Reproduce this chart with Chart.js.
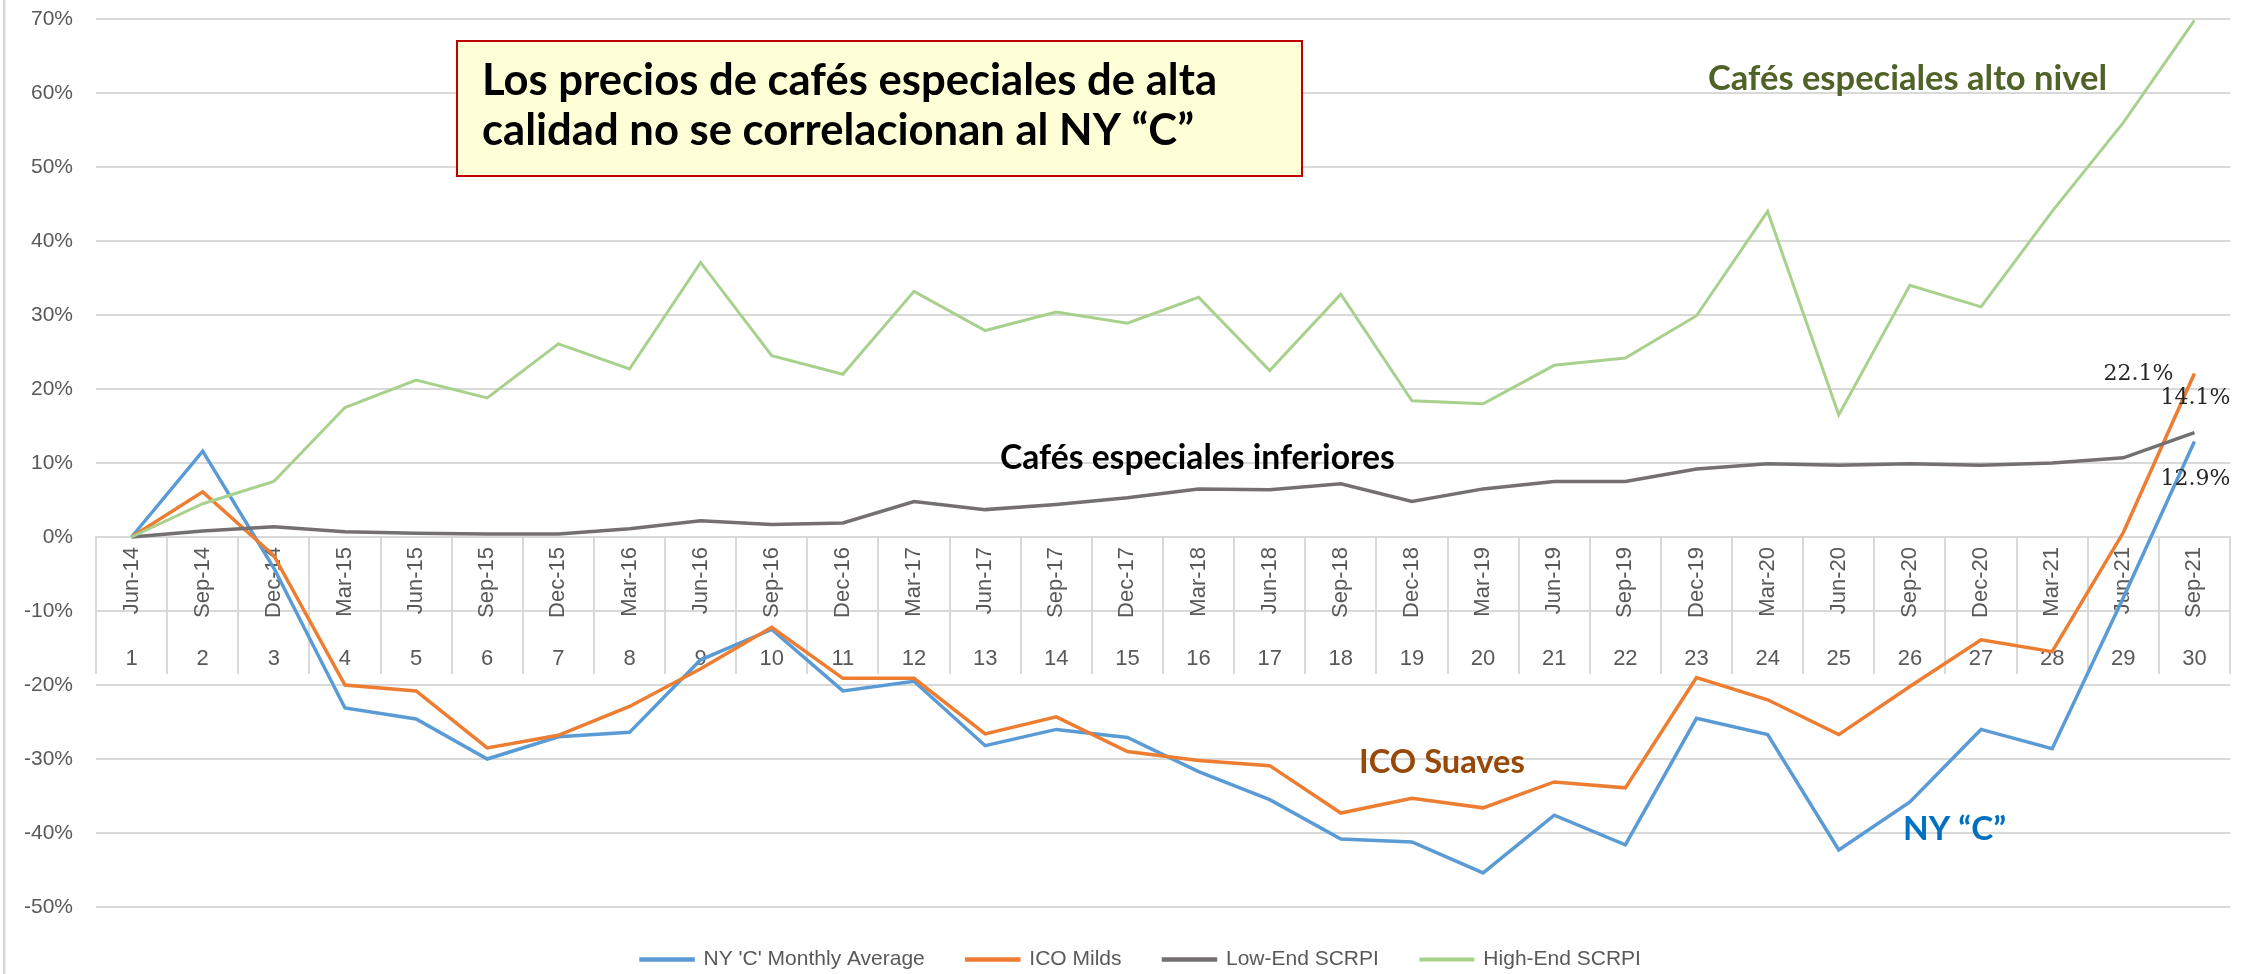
<!DOCTYPE html>
<html><head><meta charset="utf-8">
<script src="https://cdn.jsdelivr.net/npm/chart.js@4.4.1/dist/chart.umd.min.js"></script>
<style>html,body{margin:0;padding:0;background:#fff;overflow:hidden;} canvas{display:block;}</style>
</head><body>
<canvas id="c" width="2254" height="974"></canvas>
<script>
const dates = ['Jun-14','Sep-14','Dec-14','Mar-15','Jun-15','Sep-15','Dec-15','Mar-16','Jun-16','Sep-16','Dec-16','Mar-17','Jun-17','Sep-17','Dec-17','Mar-18','Jun-18','Sep-18','Dec-18','Mar-19','Jun-19','Sep-19','Dec-19','Mar-20','Jun-20','Sep-20','Dec-20','Mar-21','Jun-21','Sep-21'];
const periods = ['1','2','3','4','5','6','7','8','9','10','11','12','13','14','15','16','17','18','19','20','21','22','23','24','25','26','27','28','29','30'];
const nyC = [0, 11.6, -4.2, -23.1, -24.6, -30.0, -27.0, -26.4, -16.6, -12.5, -20.8, -19.5, -28.2, -26.0, -27.1, -31.7, -35.5, -40.8, -41.2, -45.4, -37.6, -41.6, -24.5, -26.7, -42.3, -35.8, -26.0, -28.6, -8.2, 12.9];
const icoMilds = [0, 6.1, -2.5, -20.0, -20.8, -28.5, -26.8, -22.9, -17.8, -12.2, -19.1, -19.1, -26.6, -24.3, -29.0, -30.2, -30.9, -37.3, -35.3, -36.6, -33.1, -33.9, -19.0, -22.0, -26.7, -20.2, -13.9, -15.5, 0.6, 22.1];
const lowEnd = [0, 0.8, 1.4, 0.7, 0.5, 0.4, 0.4, 1.1, 2.2, 1.7, 1.9, 4.8, 3.7, 4.4, 5.3, 6.5, 6.4, 7.2, 4.8, 6.5, 7.5, 7.5, 9.2, 9.9, 9.7, 9.9, 9.7, 10.0, 10.7, 14.1];
const highEnd = [0, 4.5, 7.5, 17.5, 21.2, 18.8, 26.1, 22.7, 37.1, 24.5, 22.0, 33.2, 27.9, 30.4, 28.9, 32.4, 22.5, 32.8, 18.4, 18.0, 23.2, 24.2, 29.9, 44.0, 16.5, 34.0, 31.1, 44.0, 56.0, 69.8];
const yTicks = [-50, -40, -30, -20, -10, 0, 10, 20, 30, 40, 50, 60, 70];
const seriesNames = ["NY 'C' Monthly Average", 'ICO Milds', 'Low-End SCRPI', 'High-End SCRPI'];
const titleLines = ['Los precios de cafés especiales de alta', 'calidad no se correlacionan al NY “C”'];
const noteHigh = 'Cafés especiales alto nivel';
const noteLow = 'Cafés especiales inferiores';
const noteIco = 'ICO Suaves';
const noteNy = 'NY “C”';

const colors = ['#5B9BD5', '#ED7D31', '#747070', '#A9D18E'];

function fitSize(ctx, text, width, weight, family) {
  ctx.font = weight + ' 100px ' + family;
  return 100 * width / ctx.measureText(text).width;
}
function drawFit(ctx, text, x, baseline, width, color, family) {
  const s = fitSize(ctx, text, width, 'bold', family);
  ctx.font = 'bold ' + s.toFixed(2) + 'px ' + family;
  ctx.fillStyle = color;
  ctx.textAlign = 'left';
  ctx.textBaseline = 'alphabetic';
  ctx.fillText(text, x, baseline);
}

const overlay = {
  id: 'overlay',
  beforeDraw(chart) {
    const ctx = chart.ctx;
    ctx.save();
    ctx.fillStyle = '#d9d9d9';
    ctx.fillRect(3, 0, 2.5, chart.height);
    ctx.restore();
  },
  afterDatasetsDraw(chart) {
    const ctx = chart.ctx;
    ctx.save();
    const endLabel = (di, dx, dy, align) => {
      const meta = chart.getDatasetMeta(di);
      const n = meta.data.length - 1;
      const pt = meta.data[n];
      const v = chart.data.datasets[di].data[n];
      ctx.font = '22px "DejaVu Serif"';
      ctx.fillStyle = '#262626';
      ctx.textAlign = align;
      ctx.textBaseline = 'middle';
      ctx.fillText(v.toFixed(1) + '%', pt.x + dx, pt.y + dy);
    };
    endLabel(1, -21, 1, 'right');
    endLabel(2, 1, -34, 'center');
    endLabel(0, 1, 38, 'center');

    // title box
    ctx.fillStyle = '#ffffd7';
    ctx.fillRect(457, 41, 845, 135);
    ctx.strokeStyle = '#c00000';
    ctx.lineWidth = 2;
    ctx.strokeRect(457, 41, 845, 135);
    const fam = 'Lato, "Liberation Sans", sans-serif';
    const ts = fitSize(ctx, titleLines[0], 735, 'bold', fam);
    ctx.font = 'bold ' + ts.toFixed(2) + 'px ' + fam;
    ctx.fillStyle = '#000';
    ctx.textAlign = 'left';
    ctx.textBaseline = 'alphabetic';
    ctx.fillText(titleLines[0], 482, 95);
    ctx.fillText(titleLines[1], 482, 145);

    drawFit(ctx, noteHigh, 1708, 90, 399, '#4F6228', fam);
    drawFit(ctx, noteLow, 1000, 469, 395, '#000000', fam);
    drawFit(ctx, noteIco, 1359, 773, 166, '#984807', fam);
    drawFit(ctx, noteNy, 1903, 840, 103, '#0070C0', fam);
    ctx.restore();
  }
};

const mk = (i, data, order, width) => ({
  label: seriesNames[i], data, borderColor: colors[i], backgroundColor: colors[i],
  borderWidth: width, pointRadius: 0, pointHoverRadius: 0, tension: 0, fill: false, order
});

new Chart(document.getElementById('c'), {
  type: 'line',
  data: {
    labels: dates,
    datasets: [mk(0, nyC, 4, 3.5), mk(1, icoMilds, 3, 3.5), mk(2, lowEnd, 2, 3.5), mk(3, highEnd, 1, 3)]
  },
  plugins: [overlay],
  options: {
    responsive: false,
    devicePixelRatio: 1,
    animation: false,
    events: [],
    layout: { padding: { top: 19, right: -28, bottom: -6, left: 0 } },
    scales: {
      y: {
        type: 'linear', min: -50, max: 70,
        afterBuildTicks: (s) => { s.ticks = yTicks.map(v => ({ value: v })); },
        afterFit: (s) => { s.width = 96; },
        grid: { color: '#d9d9d9', lineWidth: 2, drawTicks: true, tickLength: 23, tickColor: 'rgba(0,0,0,0)' },
        border: { display: false },
        ticks: { padding: 0, color: '#595959', font: { family: '"Liberation Sans"', size: 21 }, callback: (v) => v + '%' }
      },
      ySpacer: {
        type: 'linear', position: 'right', display: true,
        afterFit: (s) => { s.width = 52; },
        grid: { display: false, drawOnChartArea: false },
        border: { display: false },
        ticks: { display: false }
      },
      x: {
        type: 'category', position: { y: 0 }, offset: true,
        grid: { display: true, offset: true, drawOnChartArea: false, drawTicks: true, tickLength: 136, color: '#d9d9d9', lineWidth: 2 },
        border: { display: true, color: '#d9d9d9', width: 2 },
        ticks: { autoSkip: false, minRotation: 90, maxRotation: 90, padding: -126, color: '#595959', font: { family: '"Liberation Sans"', size: 22 } }
      },
      x2: {
        type: 'category', labels: periods, position: { y: 0 }, offset: true,
        grid: { display: true, offset: true, drawOnChartArea: false, drawTicks: true, tickLength: 109, color: 'rgba(0,0,0,0)' },
        border: { display: false },
        ticks: { autoSkip: false, minRotation: 0, maxRotation: 0, padding: 0, color: '#595959', font: { family: '"Liberation Sans"', size: 22 } }
      }
    },
    plugins: {
      tooltip: { enabled: false },
      legend: {
        position: 'bottom',
        labels: {
          sort: (a, b) => a.datasetIndex - b.datasetIndex,
          boxWidth: 52, boxHeight: 1, padding: 42, color: '#595959',
          font: { family: '"Liberation Sans"', size: 21 }
        }
      }
    }
  }
});
</script>
</body></html>
